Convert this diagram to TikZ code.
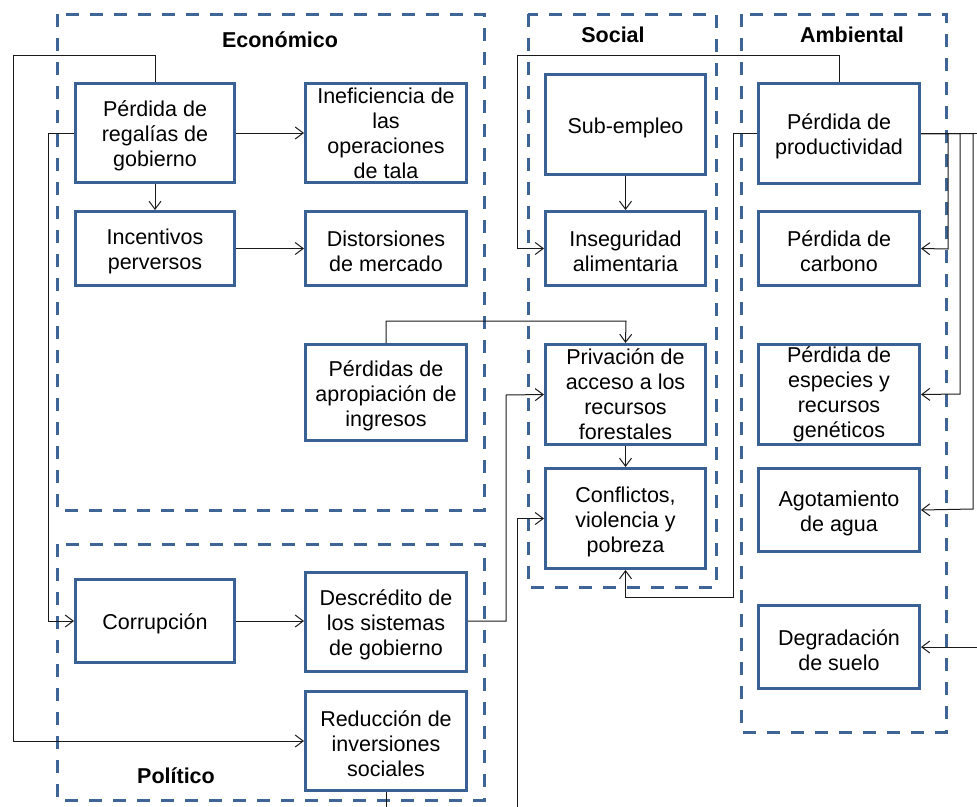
\documentclass[tikz,border=0pt]{standalone}
\usepackage{fontspec}
\setmainfont{Liberation Sans}
\usetikzlibrary{arrows.meta}
\definecolor{bxblue}{HTML}{3A6194}
\definecolor{grpblue}{HTML}{3F6496}
\tikzset{
  bx/.style={draw=bxblue, line width=3pt, fill=white, inner sep=0pt},
  bxtxt/.style={align=center, inner sep=0pt, font=\fontsize{21.5}{25}\selectfont},
  grp/.style={draw=grpblue, line width=3pt, dash pattern=on 13pt off 11pt},
  ttl/.style={font=\fontsize{21.5}{25}\selectfont\bfseries},
  arr/.style={draw=black!90, line width=1pt, -{Straight Barb[length=8pt,width=12pt,line width=1pt]}}
}
% name, x, y, width, height, text shift, text
\newcommand\bxnode[7]{%
  \node[bx, minimum width=#4pt, minimum height=#5pt] (#1) at (#2,#3) {};
  \node[bxtxt] (#1t) at ([yshift=#6pt]#1.center) {#7};}
\begin{document}
\begin{tikzpicture}[x=1pt,y=-1pt]
\useasboundingbox (0,0) rectangle (977,806);
% group frames
\draw[grp] (57,14) rectangle (484,510);
\draw[grp] (57,544) rectangle (484,800);
\draw[grp] (528,14) rectangle (716,587);
\draw[grp] (741,14) rectangle (946,732);
\node[ttl] (tEco) at (280,40) {Económico};
\node[ttl] (tPol) at (176,776) {Político};
\node[ttl] (tSoc) at (613,35) {Social};
\node[ttl] (tAmb) at (852,35) {Ambiental};
% boxes
\bxnode{reg}{155}{133}{159}{99}{-3}{Pérdida de\\regalías de\\gobierno}
\bxnode{inef}{386}{133}{161}{99}{0}{Ineficiencia de\\las\\operaciones\\de tala}
\bxnode{inc}{155}{248.5}{159}{74}{-3}{Incentivos\\perversos}
\bxnode{dist}{386}{248.5}{161}{74}{-3}{Distorsiones\\de mercado}
\bxnode{apr}{386}{392.5}{161}{96}{-3}{Pérdidas de\\apropiación de\\ingresos}
\bxnode{corr}{155}{621}{159}{83}{-3}{Corrupción}
\bxnode{desc}{386}{622}{161}{99}{-3}{Descrédito de\\los sistemas\\de gobierno}
\bxnode{red}{386}{741}{161}{99}{-3}{Reducción de\\inversiones\\sociales}
\bxnode{sub}{625.5}{124.5}{160}{100}{-3}{Sub-empleo}
\bxnode{ins}{625.5}{248.5}{160}{74}{-3}{Inseguridad\\alimentaria}
\bxnode{priv}{625.5}{394.5}{160}{100}{0}{Privación de\\acceso a los\\recursos\\forestales}
\bxnode{conf}{625.5}{518.5}{160}{100}{-3}{Conflictos,\\violencia y\\pobreza}
\bxnode{prod}{839}{133.5}{161}{100}{-3}{Pérdida de\\productividad}
\bxnode{carb}{839}{248.5}{161}{74}{-3}{Pérdida de\\carbono}
\bxnode{esp}{839}{394.5}{161}{100}{0}{Pérdida de\\especies y\\recursos\\genéticos}
\bxnode{agua}{839}{510}{161}{83}{-3}{Agotamiento\\de agua}
\bxnode{suelo}{839}{647}{161}{83}{-3}{Degradación\\de suelo}
% connectors
\draw[arr] (reg.north) |- (13,55) |- (red.west);
\draw[arr] (reg.west) -| (48,621) -- (corr.west);
\draw[arr] (reg.east) -- (inef.west);
\draw[arr] (reg.south) -- (inc.north);
\draw[arr] (inc.east) -- (dist.west);
\draw[arr] (apr.north) |- (626,321) -- (priv.north);
\draw[arr] (corr.east) -- (desc.west |- corr.east);
\draw[arr] (desc.east |- corr.east) -| (506,395) -- (priv.west);
\coordinate (b1) at (517,820);
\draw[arr] (red.south) |- (b1) |- (conf.west);
\draw[arr] (sub.south) -- (ins.north);
\draw[arr] (prod.north) |- (517,55) |- (ins.west);
\draw[arr] (priv.south) -- (conf.north);
\draw[arr] (prod.west) -| (733,597) -| (conf.south);
\draw[arr] (prod.east) -| (948,249) -- (carb.east);
\draw[arr] (prod.east) -| (960,394) -- (esp.east);
\draw[arr] (prod.east) -| (973,509) -- (agua.east);
\draw[arr] (prod.east) -| (990,647) -- (suelo.east);
\end{tikzpicture}
\end{document}
